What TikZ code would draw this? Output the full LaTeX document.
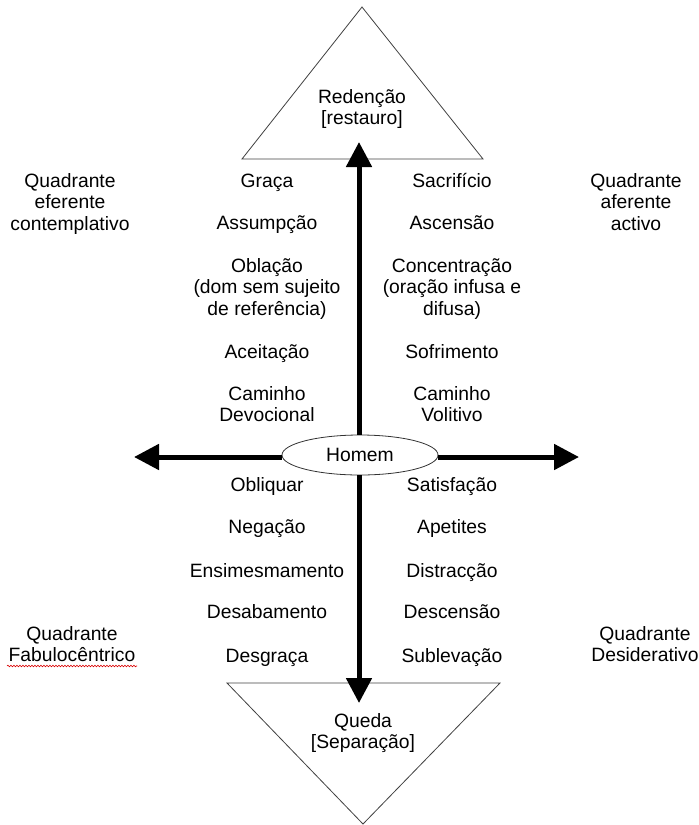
\documentclass[tikz,border=0pt]{standalone}
\usepackage{fontspec}
\setmainfont{Liberation Sans}
\usetikzlibrary{arrows.meta,shapes.geometric,decorations.pathmorphing}
\begin{document}
\begin{tikzpicture}[x=1pt,y=-1pt,
  lbl/.style={align=center,inner sep=0pt,font=\fontsize{19.3}{21.5}\selectfont,anchor=base},
  tri/.style={draw=black!75,line width=0.8pt,line join=miter},
  bigarrow/.style={line width=5pt,-{Triangle[length=25pt,width=25pt]}}]
\useasboundingbox (0,0) rectangle (699,825);
% triangles
\draw[tri] (362,7) -- (483,159) -- (242,159) -- cycle;
\draw[tri] (227,683) -- (500,683) -- (363,824) -- cycle;
% (multi-line labels are placed by the baseline of their last line)
\node[lbl] (red) at (362,124.5) {Redenção\\{}[restauro]};
\node[lbl] (queda) at (363,748.5) {Queda\\{}[Separação]};
% centre
\node[draw=black!80,line width=0.8pt,ellipse,minimum width=156pt,minimum height=40pt,inner sep=0pt,
  font=\fontsize{19.3}{21.5}\selectfont] (homem) at (360,455) {Homem};
\coordinate (up) at (359,142);
\coordinate (down) at (359,703);
\coordinate (left) at (134,457);
\coordinate (right) at (579,457);
\draw[bigarrow] (homem.north -| up) -- (up);
\draw[bigarrow] (homem.south -| down) -- (down);
\draw[bigarrow] (homem.west |- left) -- (left);
\draw[bigarrow] (homem.east |- right) -- (right);
% left column
\node[lbl] (l1) at (267,187) {Graça};
\node[lbl] (l2) at (267,229) {Assumpção};
\node[lbl] (l3) at (267,315) {Oblação\\(dom sem sujeito\\de referência)};
\node[lbl] (l4) at (267,358) {Aceitação};
\node[lbl] (l5) at (267,421.5) {Caminho\\Devocional};
\node[lbl] (l6) at (267,491) {Obliquar};
\node[lbl] (l7) at (267,533) {Negação};
\node[lbl] (l8) at (267,577) {Ensimesmamento};
\node[lbl] (l9) at (267,618) {Desabamento};
\node[lbl] (l10) at (267,662) {Desgraça};
% right column
\node[lbl] (r1) at (452,187) {Sacrifício};
\node[lbl] (r2) at (452,229) {Ascensão};
\node[lbl] (r3) at (452,315) {Concentração\\(oração infusa e\\difusa)};
\node[lbl] (r4) at (452,358) {Sofrimento};
\node[lbl] (r5) at (452,421.5) {Caminho\\Volitivo};
\node[lbl] (r6) at (452,491) {Satisfação};
\node[lbl] (r7) at (452,533) {Apetites};
\node[lbl] (r8) at (452,577) {Distracção};
\node[lbl] (r9) at (452,618) {Descensão};
\node[lbl] (r10) at (452,662) {Sublevação};
% quadrant labels
\node[lbl] (q1) at (70,230) {Quadrante\\eferente\\contemplativo};
\node[lbl] (q2) at (636,230) {Quadrante\\aferente\\activo};
\node[lbl] (q3) at (72,661.5) {Quadrante\\Fabulocêntrico};
\node[lbl] (q4) at (645,661.5) {Quadrante\\Desiderativo};
\draw[red!85!black,line width=0.6pt,decorate,decoration={snake,segment length=3pt,amplitude=0.8pt}]
  (7,666) -- (137,666);
\end{tikzpicture}
\end{document}
